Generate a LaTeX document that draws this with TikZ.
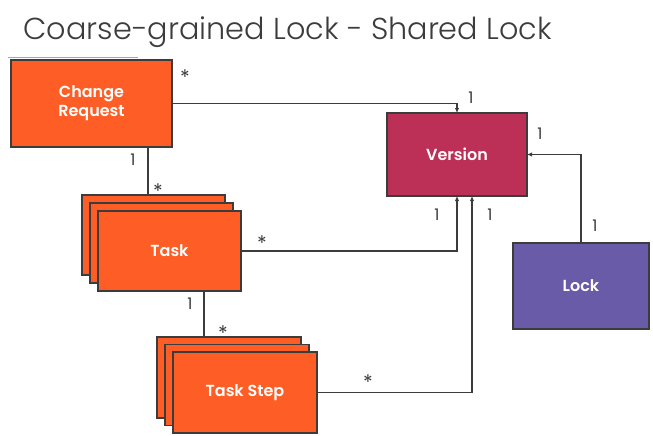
\documentclass[tikz,border=0pt]{standalone}
\usepackage{fontspec}
\setmainfont{Poppins}
\newfontfamily\titlefont{Poppins Light}
\newfontfamily\boxfont{Poppins SemiBold}
\usepackage{xcolor}
\usetikzlibrary{arrows.meta,positioning,calc}
\definecolor{ps orange}{HTML}{FE5E25}
\definecolor{ps crimson}{HTML}{BC2F56}
\definecolor{ps purple}{HTML}{6A5BA9}
\definecolor{ps line}{HTML}{3C3C3C}
\tikzset{
  classbox/.style={draw=ps line, line width=1.3pt, inner sep=0pt, outer sep=0pt,
    text=white, font=\fontsize{16}{19}\boxfont, align=center},
  assoc/.style={draw=ps line, line width=1.3pt},
  toone/.style={assoc, -{Latex[length=5pt,width=4.5pt]}},
  mult/.style={text=ps line, font=\fontsize{16}{18}\selectfont},
  many/.style={text=ps line, font=\fontsize{20}{22}\selectfont, inner sep=0pt},
}

\begin{document}
\begin{tikzpicture}[x=1pt,y=-1pt]
        \useasboundingbox (0,0) rectangle (653,436);
        \node[anchor=base west, text=ps line, font=\fontsize{30.3}{34}\titlefont] (title) at (20,40) {Coarse-grained Lock - Shared Lock};
        \draw[color=gray!70, line width=0.8pt] (8,57) -- (138,57);

        % classes
        \node[classbox, fill=ps orange, minimum width=161pt, minimum height=87pt] (cr) at (91.5,103.5) {Change\\Request};
        \node[classbox, fill=ps crimson, minimum width=140pt, minimum height=83pt] (version) at (457,154.5) {Version};
        \node[classbox, fill=ps purple, minimum width=136pt, minimum height=86pt] (lock) at (581,286) {Lock};

        \node[classbox, fill=ps orange, minimum width=143pt, minimum height=80pt] (task3) at (153.5,235) {};
        \node[classbox, fill=ps orange, minimum width=143pt, minimum height=80pt] (task2) at (161.5,243) {};
        \node[classbox, fill=ps orange, minimum width=143pt, minimum height=80pt] (task) at (169.5,251) {Task};

        \node[classbox, fill=ps orange, minimum width=144pt, minimum height=81pt] (step3) at (229,377.5) {};
        \node[classbox, fill=ps orange, minimum width=144pt, minimum height=81pt] (step2) at (237,385) {};
        \node[classbox, fill=ps orange, minimum width=144pt, minimum height=81pt] (step) at (245,392.5) {Task Step};

        % associations
        \draw[toone] (cr.east) -| (version.north);
        \draw[toone] (task.east) -| (version.south);
        \draw[toone] (step.east) -| ([xshift=15pt]version.south);
        \draw[toone] (lock.north) |- (version.east);
        \draw[assoc] ([xshift=-24pt]cr.south east) -- ([xshift=-24pt]cr.south east |- task3.north);
        \draw[assoc] ([xshift=-37pt]task.south east) -- ([xshift=-37pt]task.south east |- step3.north);

        % multiplicities
        \node[many] (m1) at (185,77) {*};
        \node[mult] (m2) at (471,98) {1};
        \node[mult] (m3) at (133,160) {1};
        \node[many] (m4) at (158,191) {*};
        \node[many] (m5) at (262,243) {*};
        \node[mult] (m6) at (437,215) {1};
        \node[mult] (m7) at (490,215) {1};
        \node[mult] (m8) at (540,134) {1};
        \node[mult] (m9) at (595,226) {1};
        \node[mult] (m10) at (190,304) {1};
        \node[many] (m11) at (223,333) {*};
        \node[many] (m12) at (368,382) {*};
\end{tikzpicture}
\end{document}
